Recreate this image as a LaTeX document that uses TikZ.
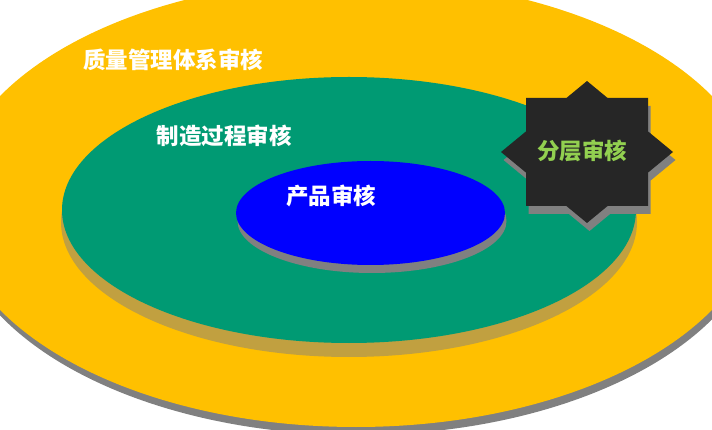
\documentclass[tikz,border=0pt]{standalone}
\usepackage{fontspec}
\newfontfamily\cjk{Noto Sans CJK SC}
\definecolor{cyellow}{HTML}{FFC000}
\definecolor{cgreen}{HTML}{009A73}
\definecolor{cblue}{HTML}{0000FF}
\definecolor{cshadow}{HTML}{808080}
\definecolor{colive}{HTML}{C1A040}
\definecolor{cstar}{HTML}{262626}
\definecolor{clabel}{HTML}{92D050}
\begin{document}
\begin{tikzpicture}[x=1pt,y=-1pt,
  lbl/.style={font=\cjk\bfseries\fontsize{22.5}{24}\selectfont, text=white, inner sep=0pt}]
\useasboundingbox (0,0) rectangle (712,430);
\clip (0,0) rectangle (712,430);
% outer ellipse
\fill[cshadow] (358,210) ellipse [x radius=405, y radius=225];
\fill[cyellow] (356,203) ellipse [x radius=405, y radius=224];
% middle ellipse
\fill[colive] (349,222) ellipse [x radius=288, y radius=135];
\fill[cgreen] (349,210) ellipse [x radius=287, y radius=133];
% inner ellipse
\fill[cshadow] (372,221) ellipse [x radius=134.5, y radius=52];
\fill[cblue] (370.5,213) ellipse [x radius=134.5, y radius=52];
% star
\begin{scope}[shift={(589.5,160)}]
\fill[cshadow] (0,-71) -- (20.6,-54) -- (61,-54) -- (61,-20.6) -- (86,0) -- (61,20.6) -- (61,54) -- (20.6,54) -- (0,71) -- (-20.6,54) -- (-61,54) -- (-61,20.6) -- (-86,0) -- (-61,-20.6) -- (-61,-54) -- (-20.6,-54) -- cycle;
\end{scope}
\begin{scope}[shift={(587,152)}]
\fill[cstar] (0,-71) -- (20.6,-54) -- (61,-54) -- (61,-20.6) -- (86,0) -- (61,20.6) -- (61,54) -- (20.6,54) -- (0,71) -- (-20.6,54) -- (-61,54) -- (-61,20.6) -- (-86,0) -- (-61,-20.6) -- (-61,-54) -- (-20.6,-54) -- cycle;
\end{scope}
% labels
\node[lbl] (qms) at (173,60) {质量管理体系审核};
\node[lbl] (proc) at (224,136) {制造过程审核};
\node[lbl] (prod) at (331,196) {产品审核};
\node[lbl, text=clabel] (lpa) at (582,151) {分层审核};
\end{tikzpicture}
\end{document}
